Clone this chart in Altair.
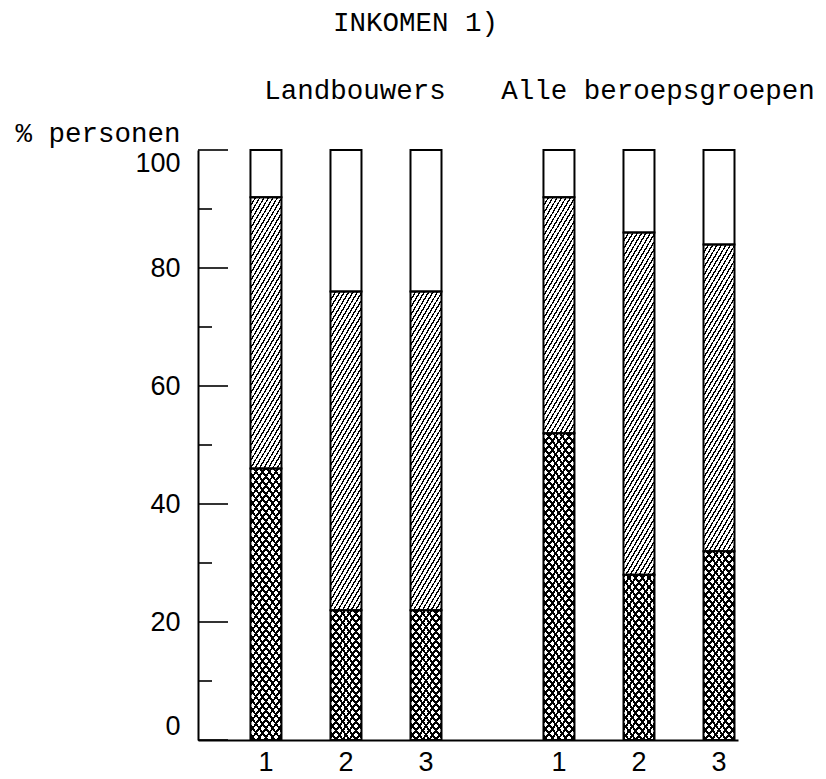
import math
import altair as alt
import pandas as pd

# ---------------- data ----------------
groups = ["Landbouwers", "Alle beroepsgroepen"]
bars = ["1", "2", "3"]
landbouwers_laag = [46, 22, 22]     # cross-hatched part (top of)
landbouwers_midden = [92, 76, 76]   # diagonal-hatched part (top of)
alle_laag = [52, 28, 32]
alle_midden = [92, 86, 84]
major_ticks = [0, 20, 40, 60, 80, 100]
minor_ticks = [10, 30, 50, 70, 90]

# ---------------- layout ----------------
W, H = 540, 590
PAD_L, PAD_T, PAD_B = 190, 142, 37
PAD_R = 810 - PAD_L - W
PX_PER_UNIT = H / 100.0
BAR_W = 31
MONO = "Liberation Mono"
SANS = "Liberation Sans"

rows = []
for g, lows, mids in [(groups[0], landbouwers_laag, landbouwers_midden),
                      (groups[1], alle_laag, alle_midden)]:
    for b, lo, md in zip(bars, lows, mids):
        rows.append(dict(groep=g, balk=b, deel="laag", y0=0, y1=lo))
        rows.append(dict(groep=g, balk=b, deel="midden", y0=lo, y1=md))
        rows.append(dict(groep=g, balk=b, deel="hoog", y0=md, y1=100))
df = pd.DataFrame(rows)

x_enc = alt.X("groep:N", sort=groups,
              scale=alt.Scale(paddingInner=0.348, paddingOuter=0.0955, align=0.9375),
              axis=alt.Axis(labels=False, ticks=False, title=None, domain=True,
                            domainColor="black", domainWidth=2, grid=False))
xo_enc = alt.XOffset("balk:N", sort=bars,
                     scale=alt.Scale(paddingInner=0.6125, paddingOuter=0))
y_axis = alt.Axis(values=major_ticks, ticks=False, tickSize=0, grid=False,
                  domain=True, domainColor="black", domainWidth=2,
                  labelFont=SANS, labelFontSize=27, labelColor="black",
                  labelPadding=18, labelFlush=True, labelFlushOffset=0,
                  title="% personen", titleAngle=0, titleAlign="right",
                  titleBaseline="alphabetic", titleX=-18, titleY=-9,
                  titleFont=MONO, titleFontSize=27.5, titleFontWeight="normal",
                  titleColor="black")
y_scale = alt.Scale(domain=[0, 100], nice=False, zero=True)


def stripes(h, s, pv, frac, back=False):
    """Linear gradient with hard stops that draws hatch lines of slope s."""
    w = BAR_W
    a = s / h
    b = 1.0 / w
    k = (a + b) / (a * a + b * b)
    if back:
        x1, y1, x2, y2 = 1, 0, 1 - a * k, b * k
    else:
        x1, y1, x2, y2 = 0, 0, a * k, b * k
    n = (s * w + h) / pv
    stops = []
    i = 0
    clear = "rgba(255,255,255,0)"
    while i < n:
        o0 = min(i / n, 1.0)
        o1 = min((i + frac) / n, 1.0)
        o2 = min((i + 1) / n, 1.0)
        stops += [alt.GradientStop(offset=o0, color="black"),
                  alt.GradientStop(offset=o1, color="black"),
                  alt.GradientStop(offset=o1, color=clear),
                  alt.GradientStop(offset=o2, color=clear)]
        i += 1
    return alt.LinearGradient(gradient="linear", x1=x1, y1=y1, x2=x2, y2=y2,
                              stops=stops)


def seg_chart():
    return alt.Chart(df).encode(
        x=x_enc, xOffset=xo_enc,
        y=alt.Y("y0:Q", scale=y_scale, axis=y_axis), y2="y1:Q")


layers = [seg_chart().mark_rect(fill="white", strokeWidth=0)]

for _, r in df.iterrows():
    if r["deel"] == "hoog":
        continue
    h = (r["y1"] - r["y0"]) * PX_PER_UNIT
    flt = (f"datum.groep === '{r['groep']}' && datum.balk === '{r['balk']}' "
           f"&& datum.deel === '{r['deel']}'")
    if r["deel"] == "midden":
        layers.append(seg_chart().transform_filter(flt).mark_rect(
            fill=stripes(h, 1.7, 7.5, 0.34), strokeWidth=0))
    else:
        layers.append(seg_chart().transform_filter(flt).mark_rect(
            fill=stripes(h, 1.35, 9.0, 0.36), strokeWidth=0))
        layers.append(seg_chart().transform_filter(flt).mark_rect(
            fill=stripes(h, 1.35, 9.0, 0.36, back=True), strokeWidth=0))

layers.append(seg_chart().mark_rect(fillOpacity=0, stroke="black", strokeWidth=2))

# inward ticks on the y axis
layers.append(alt.Chart(pd.DataFrame({"v": major_ticks})).mark_rule(
    color="black", strokeWidth=1.6).encode(
    y=alt.Y("v:Q", scale=y_scale, axis=y_axis), x=alt.value(0), x2=alt.value(30)))
layers.append(alt.Chart(pd.DataFrame({"v": minor_ticks})).mark_rule(
    color="black", strokeWidth=1.6).encode(
    y=alt.Y("v:Q", scale=y_scale, axis=y_axis), x=alt.value(0), x2=alt.value(14)))

# bar numbers under the bars
lab = pd.DataFrame([dict(groep=g, balk=b) for g in groups for b in bars])
layers.append(alt.Chart(lab).mark_text(font=SANS, fontSize=27, baseline="middle",
                                       color="black").encode(
    x=x_enc, xOffset=xo_enc, y=alt.value(H + 23), text="balk:N"))

# group headers (typed line: slightly right of the group centres)
hdr = pd.DataFrame({"groep": groups})
for g, shift in zip(groups, [9, 19]):
    layers.append(alt.Chart(hdr).transform_filter(f"datum.groep === '{g}'").mark_text(
        font=MONO, fontSize=27.5, baseline="alphabetic", dx=shift, color="black").encode(
        x=x_enc, y=alt.value(-51), text="groep:N"))

chart = alt.layer(*layers).properties(
    width=W, height=H,
    autosize=alt.AutoSizeParams(type="none"),
    padding={"left": PAD_L, "top": PAD_T, "right": PAD_R, "bottom": PAD_B},
    title=alt.TitleParams("INKOMEN 1)", anchor="start", frame="group", dx=135,
                          font=MONO, fontSize=27.5, fontWeight="normal",
                          color="black", baseline="alphabetic", offset=19),
).configure_view(stroke=None)

chart.save("out.html", embed_options={"renderer": "svg", "actions": False})
